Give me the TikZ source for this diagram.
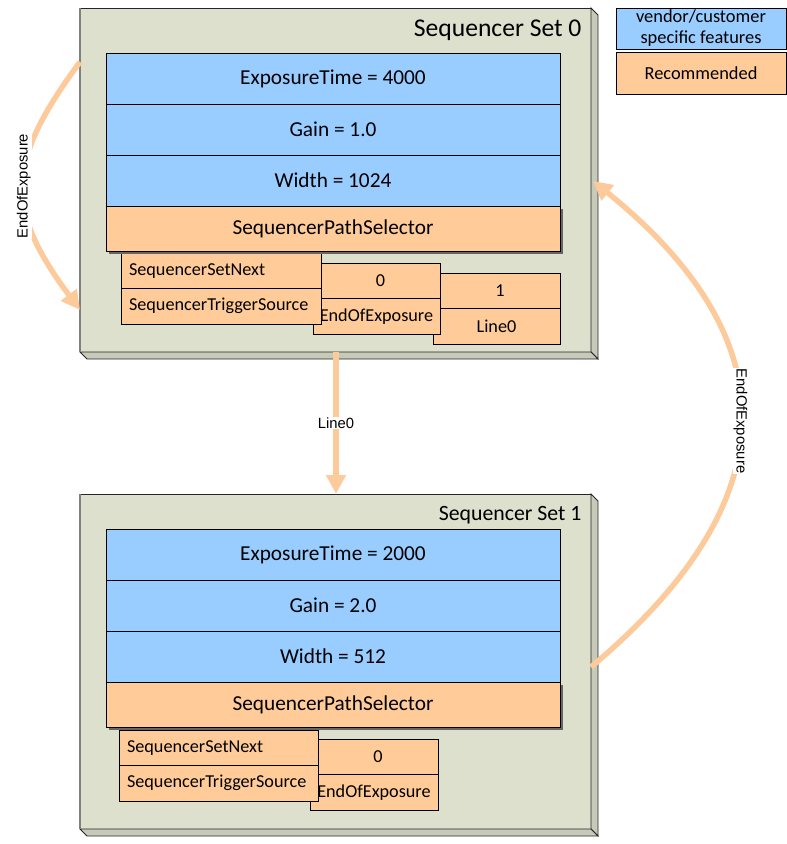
\documentclass[tikz,border=0pt]{standalone}
\usepackage{fontspec}
\setmainfont{Carlito}
\newfontfamily\arialfont{Liberation Sans}
\usetikzlibrary{positioning,calc,arrows.meta,shadows}

\definecolor{setgreen}{RGB}{221,224,204}
\definecolor{featblue}{RGB}{153,204,255}
\definecolor{recorange}{RGB}{255,204,153}
\definecolor{flowcolor}{RGB}{252,202,155}

\tikzset{
	face/.style={fill=setgreen, draw=black!85, line width=0.8pt, inner sep=0pt, outer sep=0pt, anchor=north west, minimum width=511pt},
	depth/.style={fill=setgreen!90!black, draw=black!85, line width=0.8pt},
	row/.style={fill=featblue, draw=black, line width=0.8pt, minimum width=454pt, minimum height=51pt, inner sep=0pt, outer sep=0pt, font=\fontsize{21.3}{23}\selectfont},
	rec/.style={row, fill=recorange, minimum height=45pt, drop shadow={shadow xshift=2.5pt, shadow yshift=-2.5pt, opacity=1, fill=black!60}},
	param/.style={fill=recorange, draw=black, line width=0.8pt, outer sep=0pt, minimum height=35.5pt, font=\fontsize{18.2}{19}\selectfont},
	pname/.style={param, anchor=north west, text width=184pt, inner xsep=8pt, align=left},
	pval/.style={param, inner sep=1pt, align=center},
	flow/.style={draw=flowcolor, line width=5.5pt, -{Triangle[width=19pt, length=19pt]}},
	flowlabel/.style={fill=white, text=black, inner sep=1pt, font=\arialfont\fontsize{14.8}{16}\selectfont}
}

\begin{document}
\begin{tikzpicture}[x=1pt, y=-1pt]
	\useasboundingbox (0, 0) rectangle (787, 844);

	% legend
	\node[row, anchor=north west, minimum width=170pt, minimum height=41pt, align=center, font=\fontsize{18.4}{21}\selectfont] (legfeat) at (616, 8) {vendor/customer\\specific features};
	\node[row, fill=recorange, anchor=north west, minimum width=170pt, minimum height=42pt, font=\fontsize{18.4}{21}\selectfont] (legrec) at (616, 52) {Recommended};

	% Sequencer Set 0
	\node[face, minimum height=344pt] (setA) at (80, 8) {};
	\filldraw[depth] (setA.north east) -- ++(7, 7) -- ($(setA.south east)+(7, 7)$) -- (setA.south east) -- cycle;
	\filldraw[depth] (setA.south west) -- ++(7, 7) -- ($(setA.south east)+(7, 7)$) -- (setA.south east) -- cycle;
	\draw[black!50, line width=2pt] (setA.north west) -- (setA.south west);
	\node[anchor=east, font=\fontsize{25.6}{27}\selectfont] (titleA) at ($(setA.north east)+(-6, 22)$) {Sequencer Set 0};

	\node[row, anchor=north west] (expA) at (106, 53) {ExposureTime = 4000};
	\node[row, below=0pt of expA] (gainA) {Gain = 1.0};
	\node[row, below=0pt of gainA] (widthA) {Width = 1024};

	% the boxes on the right lie under the ones on their left
	\node[pval, anchor=north west, minimum width=120pt] (altnextA) at (440, 273) {1};
	\node[pval, anchor=north east, minimum width=127pt] (alttrigA) at (altnextA.south east) {Line0};
	\node[pval, anchor=north west, minimum width=119pt] (valnextA) at (321, 263) {0};
	\node[pval, anchor=north east, minimum width=127pt] (valtrigA) at (valnextA.south east) {EndOfExposure};
	\node[pname] (nextA) at (121, 253) {SequencerSetNext};
	\node[pname, below=0pt of nextA] (trigA) {SequencerTriggerSource};

	\node[rec, below=0pt of widthA] (pathA) {SequencerPathSelector};

	% Sequencer Set 1
	\node[face, minimum height=335pt] (setB) at (80, 494) {};
	\filldraw[depth] (setB.north east) -- ++(7, 7) -- ($(setB.south east)+(7, 7)$) -- (setB.south east) -- cycle;
	\filldraw[depth] (setB.south west) -- ++(7, 7) -- ($(setB.south east)+(7, 7)$) -- (setB.south east) -- cycle;
	\draw[black!50, line width=2pt] (setB.north west) -- (setB.south west);
	\node[anchor=east, font=\fontsize{21.8}{23}\selectfont] (titleB) at ($(setB.north east)+(-6, 21)$) {Sequencer Set 1};

	\node[row, anchor=north west] (expB) at (106, 529) {ExposureTime = 2000};
	\node[row, below=0pt of expB] (gainB) {Gain = 2.0};
	\node[row, below=0pt of gainB] (widthB) {Width = 512};

	\node[pval, anchor=north west, minimum width=120pt] (valnextB) at (318, 739) {0};
	\node[pval, anchor=north east, minimum width=128pt] (valtrigB) at (valnextB.south east) {EndOfExposure};
	\node[pname, text width=183pt] (nextB) at (119, 730) {SequencerSetNext};
	\node[pname, text width=183pt, below=0pt of nextB] (trigB) {SequencerTriggerSource};

	\node[rec, below=0pt of widthB] (pathB) {SequencerPathSelector};

	% transitions
	\draw[flow] ($(setA.north west)+(0, 54)$) .. controls (5, 163) and (5, 209) .. ($(setA.north west)+(0, 302)$)
		node[flowlabel, midway, rotate=90] {EndOfExposure};
	\draw[flow] ($(setA.south west)+(256, 0)$) -- ($(setB.north west)+(256, 0)$)
		node[flowlabel, midway] {Line0};
	\draw[flow] ($(setB.north east)+(0, 173)$) .. controls (790, 500) and (790, 340) .. ($(setA.north east)+(2, 173)$)
		node[flowlabel, midway, rotate=-90] {EndOfExposure};
\end{tikzpicture}
\end{document}
